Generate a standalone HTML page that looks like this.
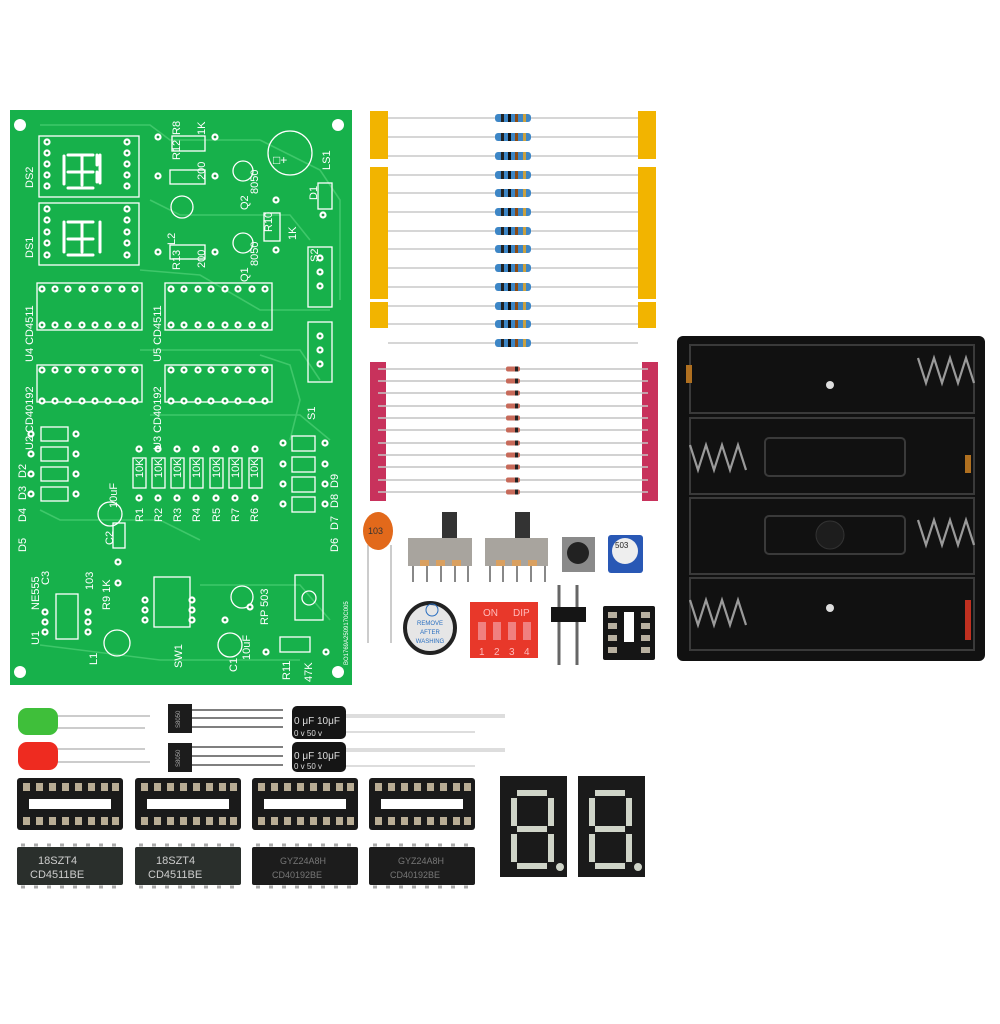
<!DOCTYPE html>
<html><head><meta charset="utf-8"><style>
html,body{margin:0;padding:0;background:#fff;}
svg{display:block;font-family:"Liberation Sans","Noto Sans CJK SC",sans-serif;}
</style></head><body>
<svg width="1000" height="1024" viewBox="0 0 1000 1024" xmlns="http://www.w3.org/2000/svg">
<defs>
<g id="pad"><circle r="3.6" fill="#fff"/><circle r="1.4" fill="#1a9a40"/></g>
<g id="res"><line x1="-125" y1="0" x2="125" y2="0" stroke="#c8c8c8" stroke-width="1.6"/><rect x="-18" y="-4" width="36" height="8" rx="3" fill="#3d86c6"/><rect x="-12" y="-4" width="3" height="8" fill="#222"/><rect x="-5" y="-4" width="3" height="8" fill="#111"/><rect x="2" y="-4" width="3" height="8" fill="#8a4a14"/><rect x="10" y="-4" width="3" height="8" fill="#c9a040"/></g>
<g id="dio"><line x1="-135" y1="0" x2="135" y2="0" stroke="#c4c4c4" stroke-width="1.4"/><rect x="-7" y="-2.5" width="14" height="5" rx="2" fill="#c76a5a"/><rect x="2" y="-2.5" width="3" height="5" fill="#222"/></g>
<g id="prow" fill="#b9ad95"><rect x="6" y="0" width="7" height="8"/><rect x="19" y="0" width="7" height="8"/><rect x="32" y="0" width="7" height="8"/><rect x="45" y="0" width="7" height="8"/><rect x="58" y="0" width="7" height="8"/><rect x="71" y="0" width="7" height="8"/><rect x="84" y="0" width="7" height="8"/><rect x="95" y="0" width="7" height="8"/></g>
<g id="sock16"><rect x="0" y="0" width="106" height="52" rx="3" fill="#1a1a1a"/><rect x="12" y="21" width="82" height="10" fill="#fff"/><use href="#prow" y="5"/><use href="#prow" y="39"/></g>
<g id="spring" fill="none" stroke="#9a9a9a" stroke-width="2.2"><path d="M0,0 l8,25 l8,-25 l8,25 l8,-25 l8,25 l8,-25 l8,25"/></g>
</defs>

<!-- PCB -->
<rect x="10" y="110" width="342" height="575" fill="#17b14b"/>
<g fill="none" stroke="#3fc76a" stroke-width="1.6">
<path d="M40,125 L150,125 L170,140 L260,140"/><path d="M150,200 L180,215 L290,215 L310,240"/>
<path d="M140,270 L200,275 L260,310 L330,310"/><path d="M140,350 L300,350 L320,380"/>
<path d="M150,415 L300,415 L330,440"/><path d="M40,510 L60,520 L160,520 L200,540"/>
<path d="M40,645 L160,660 L300,660"/><path d="M200,585 L300,585 L330,620"/>
<path d="M260,140 L320,170 L340,200 L340,300"/><path d="M260,355 L290,365 L300,400 L290,440"/>
</g>
<g fill="#fff"><circle cx="20" cy="125" r="6"/><circle cx="338" cy="125" r="6"/><circle cx="20" cy="672" r="6"/><circle cx="338" cy="672" r="6"/></g>
<g fill="none" stroke="#fff" stroke-width="1.3">
<rect x="39" y="136" width="100" height="61"/><rect x="39" y="203" width="100" height="62"/>
<rect x="37" y="283" width="105" height="47"/><rect x="165" y="283" width="107" height="47"/>
<rect x="37" y="365" width="105" height="37"/><rect x="165" y="365" width="107" height="37"/>
<rect x="41" y="427" width="27" height="14"/><rect x="41" y="447" width="27" height="14"/><rect x="41" y="467" width="27" height="14"/><rect x="41" y="487" width="27" height="14"/>
<rect x="133" y="458" width="13" height="30"/><rect x="152" y="458" width="13" height="30"/><rect x="171" y="458" width="13" height="30"/><rect x="190" y="458" width="13" height="30"/><rect x="210" y="458" width="13" height="30"/><rect x="229" y="458" width="13" height="30"/><rect x="249" y="458" width="13" height="30"/>
<rect x="292" y="436" width="23" height="15"/><rect x="292" y="457" width="23" height="15"/><rect x="292" y="477" width="23" height="15"/><rect x="292" y="497" width="23" height="15"/>
<rect x="308" y="247" width="24" height="60"/><rect x="308" y="322" width="24" height="60"/>
<circle cx="290" cy="153" r="22"/><rect x="172" y="136" width="33" height="15"/><rect x="170" y="170" width="35" height="14"/><rect x="170" y="245" width="35" height="14"/>
<rect x="264" y="213" width="16" height="28"/><rect x="318" y="183" width="14" height="26"/>
<circle cx="243" cy="171" r="10"/><circle cx="243" cy="243" r="10"/><circle cx="182" cy="207" r="11"/>
<rect x="154" y="577" width="36" height="50"/><rect x="56" y="594" width="22" height="45"/><rect x="113" y="523" width="12" height="25"/>
<circle cx="117" cy="643" r="13"/><circle cx="230" cy="645" r="12"/><circle cx="242" cy="597" r="11"/><circle cx="110" cy="514" r="12"/>
<rect x="295" y="575" width="28" height="45"/><circle cx="309" cy="598" r="7"/><rect x="280" y="637" width="30" height="15"/>
</g>
<g stroke="#fff" stroke-width="3" stroke-linecap="round" fill="none">
<path d="M68,155 l25,0 M97,155 l0,10 M68,172 l25,0 M97,172 l0,10 M68,188 l25,0 M64,156 l0,28 M100,155 l0,28 M82,155 l0,30"/>
<path d="M68,222 l25,0 M68,239 l25,0 M68,255 l25,0 M64,222 l0,30 M100,222 l0,30 M82,222 l0,30"/>
</g>
<g>
<use href="#pad" x="47" y="142"/><use href="#pad" x="47" y="153"/><use href="#pad" x="47" y="164"/><use href="#pad" x="47" y="175"/><use href="#pad" x="47" y="186"/>
<use href="#pad" x="127" y="142"/><use href="#pad" x="127" y="153"/><use href="#pad" x="127" y="164"/><use href="#pad" x="127" y="175"/><use href="#pad" x="127" y="186"/>
<use href="#pad" x="47" y="209"/><use href="#pad" x="47" y="220"/><use href="#pad" x="47" y="232"/><use href="#pad" x="47" y="243"/><use href="#pad" x="47" y="255"/>
<use href="#pad" x="127" y="209"/><use href="#pad" x="127" y="220"/><use href="#pad" x="127" y="232"/><use href="#pad" x="127" y="243"/><use href="#pad" x="127" y="255"/>
</g>
<g>
<use href="#pad" x="42" y="289"/><use href="#pad" x="55" y="289"/><use href="#pad" x="68" y="289"/><use href="#pad" x="82" y="289"/><use href="#pad" x="95" y="289"/><use href="#pad" x="108" y="289"/><use href="#pad" x="122" y="289"/><use href="#pad" x="135" y="289"/>
<use href="#pad" x="42" y="325"/><use href="#pad" x="55" y="325"/><use href="#pad" x="68" y="325"/><use href="#pad" x="82" y="325"/><use href="#pad" x="95" y="325"/><use href="#pad" x="108" y="325"/><use href="#pad" x="122" y="325"/><use href="#pad" x="135" y="325"/>
<use href="#pad" x="171" y="289"/><use href="#pad" x="184" y="289"/><use href="#pad" x="198" y="289"/><use href="#pad" x="211" y="289"/><use href="#pad" x="225" y="289"/><use href="#pad" x="238" y="289"/><use href="#pad" x="252" y="289"/><use href="#pad" x="265" y="289"/>
<use href="#pad" x="171" y="325"/><use href="#pad" x="184" y="325"/><use href="#pad" x="198" y="325"/><use href="#pad" x="211" y="325"/><use href="#pad" x="225" y="325"/><use href="#pad" x="238" y="325"/><use href="#pad" x="252" y="325"/><use href="#pad" x="265" y="325"/>
<use href="#pad" x="42" y="370"/><use href="#pad" x="55" y="370"/><use href="#pad" x="68" y="370"/><use href="#pad" x="82" y="370"/><use href="#pad" x="95" y="370"/><use href="#pad" x="108" y="370"/><use href="#pad" x="122" y="370"/><use href="#pad" x="135" y="370"/>
<use href="#pad" x="42" y="401"/><use href="#pad" x="55" y="401"/><use href="#pad" x="68" y="401"/><use href="#pad" x="82" y="401"/><use href="#pad" x="95" y="401"/><use href="#pad" x="108" y="401"/><use href="#pad" x="122" y="401"/><use href="#pad" x="135" y="401"/>
<use href="#pad" x="171" y="370"/><use href="#pad" x="184" y="370"/><use href="#pad" x="198" y="370"/><use href="#pad" x="211" y="370"/><use href="#pad" x="225" y="370"/><use href="#pad" x="238" y="370"/><use href="#pad" x="252" y="370"/><use href="#pad" x="265" y="370"/>
<use href="#pad" x="171" y="401"/><use href="#pad" x="184" y="401"/><use href="#pad" x="198" y="401"/><use href="#pad" x="211" y="401"/><use href="#pad" x="225" y="401"/><use href="#pad" x="238" y="401"/><use href="#pad" x="252" y="401"/><use href="#pad" x="265" y="401"/>
<use href="#pad" x="31" y="434"/><use href="#pad" x="31" y="454"/><use href="#pad" x="31" y="474"/><use href="#pad" x="31" y="494"/>
<use href="#pad" x="76" y="434"/><use href="#pad" x="76" y="454"/><use href="#pad" x="76" y="474"/><use href="#pad" x="76" y="494"/>
<use href="#pad" x="139" y="449"/><use href="#pad" x="158" y="449"/><use href="#pad" x="177" y="449"/><use href="#pad" x="196" y="449"/><use href="#pad" x="216" y="449"/><use href="#pad" x="235" y="449"/><use href="#pad" x="255" y="449"/>
<use href="#pad" x="139" y="498"/><use href="#pad" x="158" y="498"/><use href="#pad" x="177" y="498"/><use href="#pad" x="196" y="498"/><use href="#pad" x="216" y="498"/><use href="#pad" x="235" y="498"/><use href="#pad" x="255" y="498"/>
<use href="#pad" x="283" y="443"/><use href="#pad" x="283" y="464"/><use href="#pad" x="283" y="484"/><use href="#pad" x="283" y="504"/>
<use href="#pad" x="325" y="443"/><use href="#pad" x="325" y="464"/><use href="#pad" x="325" y="484"/><use href="#pad" x="325" y="504"/>
<use href="#pad" x="320" y="258"/><use href="#pad" x="320" y="272"/><use href="#pad" x="320" y="286"/><use href="#pad" x="320" y="336"/><use href="#pad" x="320" y="350"/><use href="#pad" x="320" y="364"/>
<use href="#pad" x="158" y="137"/><use href="#pad" x="215" y="137"/><use href="#pad" x="158" y="176"/><use href="#pad" x="215" y="176"/><use href="#pad" x="158" y="252"/><use href="#pad" x="215" y="252"/>
<use href="#pad" x="276" y="200"/><use href="#pad" x="276" y="250"/><use href="#pad" x="323" y="215"/>
<use href="#pad" x="45" y="612"/><use href="#pad" x="45" y="622"/><use href="#pad" x="45" y="632"/><use href="#pad" x="88" y="612"/><use href="#pad" x="88" y="622"/><use href="#pad" x="88" y="632"/>
<use href="#pad" x="145" y="600"/><use href="#pad" x="145" y="610"/><use href="#pad" x="145" y="620"/><use href="#pad" x="192" y="600"/><use href="#pad" x="192" y="610"/><use href="#pad" x="192" y="620"/>
<use href="#pad" x="225" y="620"/><use href="#pad" x="250" y="607"/><use href="#pad" x="266" y="652"/><use href="#pad" x="326" y="652"/><use href="#pad" x="118" y="583"/><use href="#pad" x="118" y="562"/>
</g>
<g fill="#fff" font-size="11">
<text transform="translate(33,188) rotate(-90)">DS2</text>
<text transform="translate(33,258) rotate(-90)">DS1</text>
<text transform="translate(33,362) rotate(-90)">U4 CD4511</text>
<text transform="translate(33,450) rotate(-90)">U2 CD40192</text>
<text transform="translate(161,362) rotate(-90)">U5 CD4511</text>
<text transform="translate(161,450) rotate(-90)">U3 CD40192</text>
<text transform="translate(26,478) rotate(-90)">D2</text><text transform="translate(26,500) rotate(-90)">D3</text><text transform="translate(26,522) rotate(-90)">D4</text><text transform="translate(26,552) rotate(-90)">D5</text>
<text transform="translate(338,488) rotate(-90)">D9</text><text transform="translate(338,508) rotate(-90)">D8</text><text transform="translate(338,530) rotate(-90)">D7</text><text transform="translate(338,552) rotate(-90)">D6</text>
<text transform="translate(143,478) rotate(-90)">10K</text><text transform="translate(162,478) rotate(-90)">10K</text><text transform="translate(181,478) rotate(-90)">10K</text><text transform="translate(200,478) rotate(-90)">10K</text><text transform="translate(220,478) rotate(-90)">10K</text><text transform="translate(239,478) rotate(-90)">10K</text><text transform="translate(258,478) rotate(-90)">10K</text>
<text transform="translate(143,522) rotate(-90)">R1</text><text transform="translate(162,522) rotate(-90)">R2</text><text transform="translate(181,522) rotate(-90)">R3</text><text transform="translate(200,522) rotate(-90)">R4</text><text transform="translate(220,522) rotate(-90)">R5</text><text transform="translate(239,522) rotate(-90)">R7</text><text transform="translate(258,522) rotate(-90)">R6</text>
<text transform="translate(117,508) rotate(-90)">10uF</text><text transform="translate(113,545) rotate(-90)">C2</text>
<text transform="translate(39,610) rotate(-90)">NE555</text><text transform="translate(39,645) rotate(-90)">U1</text>
<text transform="translate(49,585) rotate(-90)">C3</text><text transform="translate(93,590) rotate(-90)">103</text>
<text transform="translate(110,610) rotate(-90)">R9 1K</text><text transform="translate(97,665) rotate(-90)">L1</text>
<text transform="translate(182,668) rotate(-90)">SW1</text><text transform="translate(237,672) rotate(-90)">C1</text><text transform="translate(250,660) rotate(-90)">10uF</text>
<text transform="translate(268,625) rotate(-90)">RP 503</text><text transform="translate(290,680) rotate(-90)">R11</text><text transform="translate(312,682) rotate(-90)">47K</text>
<text transform="translate(180,160) rotate(-90)">R12</text><text transform="translate(180,135) rotate(-90)">R8</text><text transform="translate(205,135) rotate(-90)">1K</text><text transform="translate(205,180) rotate(-90)">200</text>
<text transform="translate(175,245) rotate(-90)">L2</text><text transform="translate(180,270) rotate(-90)">R13</text><text transform="translate(205,268) rotate(-90)">200</text>
<text transform="translate(258,194) rotate(-90)">8050</text><text transform="translate(248,210) rotate(-90)">Q2</text><text transform="translate(258,266) rotate(-90)">8050</text><text transform="translate(248,282) rotate(-90)">Q1</text>
<text transform="translate(272,232) rotate(-90)">R10</text><text transform="translate(296,240) rotate(-90)">1K</text>
<text transform="translate(330,170) rotate(-90)">LS1</text><text transform="translate(317,200) rotate(-90)">D1</text>
<text transform="translate(318,262) rotate(-90)">S2</text><text transform="translate(315,420) rotate(-90)">S1</text>
<text x="273" y="164" font-size="12">□+</text>
<text transform="translate(348,665) rotate(-90)" font-size="6">BO1769A2509170C005</text>
</g>

<g fill="#f2b400"><rect x="370" y="111" width="18" height="48"/><rect x="370" y="167" width="18" height="132"/><rect x="370" y="302" width="18" height="26"/>
<rect x="638" y="111" width="18" height="48"/><rect x="638" y="167" width="18" height="132"/><rect x="638" y="302" width="18" height="26"/></g>
<use href="#res" x="513" y="118"/><use href="#res" x="513" y="137"/><use href="#res" x="513" y="156"/><use href="#res" x="513" y="175"/><use href="#res" x="513" y="193"/><use href="#res" x="513" y="212"/><use href="#res" x="513" y="231"/><use href="#res" x="513" y="249"/><use href="#res" x="513" y="268"/><use href="#res" x="513" y="287"/><use href="#res" x="513" y="306"/><use href="#res" x="513" y="324"/><use href="#res" x="513" y="343"/>

<g fill="#c8325c"><rect x="370" y="362" width="16" height="139"/><rect x="642" y="362" width="16" height="139"/></g>
<use href="#dio" x="513" y="369"/><use href="#dio" x="513" y="381"/><use href="#dio" x="513" y="393"/><use href="#dio" x="513" y="406"/><use href="#dio" x="513" y="418"/><use href="#dio" x="513" y="430"/><use href="#dio" x="513" y="443"/><use href="#dio" x="513" y="455"/><use href="#dio" x="513" y="467"/><use href="#dio" x="513" y="480"/><use href="#dio" x="513" y="492"/>

<rect x="677" y="336" width="308" height="325" rx="6" fill="#111"/>
<g fill="none" stroke="#3a3a3a" stroke-width="2">
<rect x="690" y="345" width="284" height="68"/><rect x="690" y="418" width="284" height="76"/><rect x="690" y="498" width="284" height="76"/><rect x="690" y="578" width="284" height="72"/>
<rect x="765" y="438" width="140" height="38" rx="4"/><rect x="765" y="516" width="140" height="38" rx="4"/>
</g>
<circle cx="830" cy="385" r="4" fill="#ddd"/><circle cx="830" cy="608" r="4" fill="#ddd"/>
<circle cx="830" cy="535" r="14" fill="#1d1d1d" stroke="#333"/>
<g transform="translate(918,358)"><use href="#spring"/></g>
<g transform="translate(690,445)"><use href="#spring"/></g>
<g transform="translate(918,520)"><use href="#spring"/></g>
<g transform="translate(690,600)"><use href="#spring"/></g>
<rect x="686" y="365" width="6" height="18" fill="#b07020"/><rect x="965" y="455" width="6" height="18" fill="#b07020"/><rect x="965" y="600" width="6" height="40" fill="#c03020"/>

<line x1="368" y1="545" x2="368" y2="643" stroke="#ccc" stroke-width="2"/><line x1="391" y1="545" x2="391" y2="643" stroke="#ccc" stroke-width="2"/>
<ellipse cx="378" cy="531" rx="15" ry="19" fill="#e2691b"/>
<text x="368" y="534" font-size="9" fill="#333">103</text>

<g stroke="#888" stroke-width="2"><line x1="413" y1="565" x2="413" y2="582"/><line x1="427" y1="565" x2="427" y2="582"/><line x1="441" y1="565" x2="441" y2="582"/><line x1="455" y1="565" x2="455" y2="582"/><line x1="468" y1="565" x2="468" y2="582"/>
<line x1="490" y1="565" x2="490" y2="582"/><line x1="503" y1="565" x2="503" y2="582"/><line x1="517" y1="565" x2="517" y2="582"/><line x1="531" y1="565" x2="531" y2="582"/><line x1="545" y1="565" x2="545" y2="582"/></g>
<rect x="442" y="512" width="15" height="27" fill="#333"/><rect x="515" y="512" width="15" height="27" fill="#333"/>
<rect x="408" y="538" width="64" height="28" fill="#a8a49e"/><rect x="485" y="538" width="63" height="28" fill="#a8a49e"/>
<g fill="#d9a060"><rect x="420" y="560" width="9" height="6"/><rect x="436" y="560" width="9" height="6"/><rect x="452" y="560" width="9" height="6"/><rect x="496" y="560" width="9" height="6"/><rect x="512" y="560" width="9" height="6"/><rect x="528" y="560" width="9" height="6"/></g>
<rect x="562" y="537" width="33" height="35" fill="#8a8a8a"/><circle cx="578" cy="553" r="11" fill="#222"/>
<rect x="608" y="535" width="35" height="38" rx="3" fill="#2958b5"/><circle cx="625" cy="551" r="13" fill="#eee"/><text x="615" y="548" font-size="8" fill="#222">503</text>
<circle cx="430" cy="628" r="25" fill="#e6e6e6" stroke="#222" stroke-width="4"/>
<circle cx="432" cy="610" r="6" fill="none" stroke="#2a6fc0"/>
<text x="430" y="625" font-size="6" fill="#2a6fc0" text-anchor="middle">REMOVE</text><text x="430" y="634" font-size="6" fill="#2a6fc0" text-anchor="middle">AFTER</text><text x="430" y="643" font-size="6" fill="#2a6fc0" text-anchor="middle">WASHING</text>
<rect x="470" y="602" width="68" height="56" fill="#e8382a"/>
<text x="483" y="616" font-size="10" fill="#fbb">ON</text><text x="513" y="616" font-size="10" fill="#fbb">DIP</text>
<g fill="#f08080"><rect x="478" y="622" width="8" height="18"/><rect x="493" y="622" width="8" height="18"/><rect x="508" y="622" width="8" height="18"/><rect x="523" y="622" width="8" height="18"/></g>
<text x="479" y="655" font-size="10" fill="#fbb">1</text><text x="494" y="655" font-size="10" fill="#fbb">2</text><text x="509" y="655" font-size="10" fill="#fbb">3</text><text x="524" y="655" font-size="10" fill="#fbb">4</text>
<line x1="559" y1="585" x2="559" y2="665" stroke="#666" stroke-width="3"/><line x1="577" y1="585" x2="577" y2="665" stroke="#666" stroke-width="3"/>
<rect x="551" y="607" width="35" height="15" fill="#151515"/>
<rect x="603" y="606" width="52" height="54" rx="2" fill="#151515"/><rect x="624" y="612" width="10" height="30" fill="#fff"/>
<g fill="#b8b0a0"><rect x="608" y="612" width="9" height="6"/><rect x="608" y="623" width="9" height="6"/><rect x="608" y="635" width="9" height="6"/><rect x="608" y="647" width="9" height="6"/><rect x="641" y="612" width="9" height="6"/><rect x="641" y="623" width="9" height="6"/><rect x="641" y="635" width="9" height="6"/><rect x="641" y="647" width="9" height="6"/></g>

<g stroke="#bbb" stroke-width="1.5"><line x1="55" y1="716" x2="150" y2="716"/><line x1="55" y1="728" x2="145" y2="728"/><line x1="55" y1="749" x2="145" y2="749"/><line x1="55" y1="762" x2="150" y2="762"/></g>
<rect x="18" y="708" width="40" height="27" rx="9" fill="#3fbf3a"/><rect x="18" y="742" width="40" height="28" rx="9" fill="#ee2b20"/>
<g stroke="#555" stroke-width="1.5"><line x1="190" y1="710" x2="283" y2="710"/><line x1="190" y1="718" x2="283" y2="718"/><line x1="190" y1="727" x2="283" y2="727"/><line x1="190" y1="747" x2="283" y2="747"/><line x1="190" y1="756" x2="283" y2="756"/><line x1="190" y1="765" x2="283" y2="765"/></g>
<rect x="168" y="704" width="24" height="29" fill="#1c1c1c"/><rect x="168" y="743" width="24" height="29" fill="#1c1c1c"/>
<text transform="translate(180,728) rotate(-90)" font-size="6" fill="#aaa">S8050</text><text transform="translate(180,767) rotate(-90)" font-size="6" fill="#aaa">S8050</text>
<g stroke="#ddd"><line x1="345" y1="716" x2="505" y2="716" stroke-width="4"/><line x1="345" y1="732" x2="475" y2="732" stroke-width="2"/><line x1="345" y1="750" x2="505" y2="750" stroke-width="4"/><line x1="345" y1="766" x2="475" y2="766" stroke-width="2"/></g>
<rect x="292" y="706" width="54" height="33" rx="5" fill="#151515"/><rect x="292" y="742" width="54" height="30" rx="5" fill="#151515"/>
<text x="294" y="724" font-size="10" fill="#ddd">0 μF 10μF</text><text x="294" y="736" font-size="8" fill="#ddd">0 v  50 v</text>
<text x="294" y="759" font-size="10" fill="#ddd">0 μF 10μF</text><text x="294" y="769" font-size="8" fill="#ddd">0 v  50 v</text>

<use href="#sock16" x="17" y="778"/><use href="#sock16" x="135" y="778"/><use href="#sock16" x="252" y="778"/><use href="#sock16" x="369" y="778"/>
<g fill="#2a2f2c"><rect x="17" y="847" width="106" height="38" rx="2"/><rect x="135" y="847" width="106" height="38" rx="2"/></g>
<g fill="#1c1c1c"><rect x="252" y="847" width="106" height="38" rx="2"/><rect x="369" y="847" width="106" height="38" rx="2"/></g>
<g stroke="#aaa" stroke-width="3" stroke-dasharray="4,9"><line x1="21" y1="845" x2="123" y2="845"/><line x1="21" y1="887" x2="123" y2="887"/><line x1="139" y1="845" x2="241" y2="845"/><line x1="139" y1="887" x2="241" y2="887"/><line x1="256" y1="845" x2="358" y2="845"/><line x1="256" y1="887" x2="358" y2="887"/><line x1="373" y1="845" x2="475" y2="845"/><line x1="373" y1="887" x2="475" y2="887"/></g>
<g fill="#ccc" font-size="11"><text x="38" y="864">18SZT4</text><text x="30" y="878">CD4511BE</text><text x="156" y="864">18SZT4</text><text x="148" y="878">CD4511BE</text></g>
<g fill="#777" font-size="9"><text x="280" y="864">GYZ24A8H</text><text x="272" y="878">CD40192BE</text><text x="398" y="864">GYZ24A8H</text><text x="390" y="878">CD40192BE</text></g>

<rect x="500" y="776" width="67" height="101" fill="#1a1a1a"/><rect x="578" y="776" width="67" height="101" fill="#1a1a1a"/>
<g stroke="#cfd4c8" stroke-width="6" fill="none">
<path d="M517,793 h30 M514,798 v28 M551,798 v28 M517,829 h30 M514,834 v28 M551,834 v28 M517,866 h30"/>
<path d="M595,793 h30 M592,798 v28 M629,798 v28 M595,829 h30 M592,834 v28 M629,834 v28 M595,866 h30"/>
</g>
<circle cx="560" cy="867" r="4" fill="#cfd4c8"/><circle cx="638" cy="867" r="4" fill="#cfd4c8"/>
</svg>
</body></html>
